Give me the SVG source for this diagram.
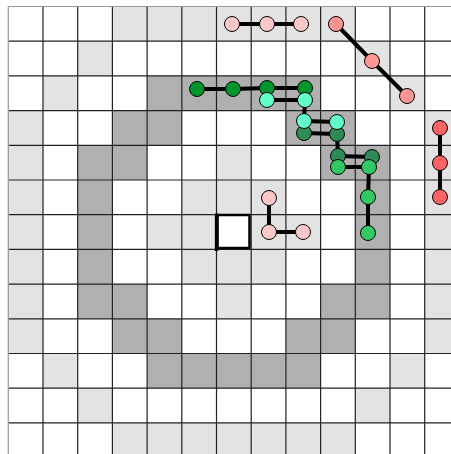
<svg xmlns="http://www.w3.org/2000/svg" width="451" height="454" viewBox="0 0 451 454">
<style>
.L{fill:#e3e3e3}
.D{fill:#b0b0b0}
.g{stroke:#222;stroke-width:1.2}
.edge{fill:none;stroke:#000;stroke-width:4;stroke-linejoin:round;stroke-linecap:round}
circle{stroke:#000;stroke-width:1}
.pink{fill:#ffc8c8}
.salmon{fill:#ff9696}
.red{fill:#ff6464}
.dg{fill:#00962d}
.mint{fill:#64ffc8}
.sg{fill:#2e8b57}
.lg{fill:#32c864}
</style>
<rect x="0" y="0" width="451" height="454" fill="#fff"/>
<g id="cells">
<!-- row 0 -->
<rect class="L" x="112.4" y="6.5" width="242.9" height="34.7"/>
<!-- row 1 -->
<rect class="L" x="77.7" y="41.2" width="34.7" height="34.7"/>
<rect class="L" x="355.3" y="41.2" width="34.7" height="34.7"/>
<!-- row 2 -->
<rect class="L" x="43" y="75.9" width="34.7" height="34.7"/>
<rect class="L" x="390" y="75.9" width="34.7" height="34.7"/>
<rect class="D" x="147.1" y="75.9" width="173.5" height="34.7"/>
<!-- row 3 -->
<rect class="L" x="8.3" y="110.6" width="34.7" height="34.7"/>
<rect class="L" x="424.7" y="110.6" width="34.7" height="34.7"/>
<rect class="D" x="112.4" y="110.6" width="69.4" height="34.7"/>
<rect class="D" x="285.9" y="110.6" width="69.4" height="34.7"/>
<!-- row 4 -->
<rect class="L" x="8.3" y="145.3" width="34.7" height="34.7"/>
<rect class="L" x="216.5" y="145.3" width="34.7" height="34.7"/>
<rect class="L" x="424.7" y="145.3" width="34.7" height="34.7"/>
<rect class="D" x="77.7" y="145.3" width="69.4" height="34.7"/>
<rect class="D" x="320.6" y="145.3" width="69.4" height="34.7"/>
<!-- row 5 -->
<rect class="L" x="8.3" y="180" width="34.7" height="34.7"/>
<rect class="L" x="181.8" y="180" width="104.1" height="34.7"/>
<rect class="L" x="424.7" y="180" width="34.7" height="34.7"/>
<rect class="D" x="77.7" y="180" width="34.7" height="34.7"/>
<rect class="D" x="355.3" y="180" width="34.7" height="34.7"/>
<!-- row 6 -->
<rect class="L" x="8.3" y="214.7" width="34.7" height="34.7"/>
<rect class="L" x="147.1" y="214.7" width="69.4" height="34.7"/>
<rect class="L" x="251.2" y="214.7" width="69.4" height="34.7"/>
<rect class="L" x="424.7" y="214.7" width="34.7" height="34.7"/>
<rect class="D" x="77.7" y="214.7" width="34.7" height="34.7"/>
<rect class="D" x="355.3" y="214.7" width="34.7" height="34.7"/>
<!-- row 7 -->
<rect class="L" x="8.3" y="249.4" width="34.7" height="34.7"/>
<rect class="L" x="181.8" y="249.4" width="104.1" height="34.7"/>
<rect class="L" x="424.7" y="249.4" width="34.7" height="34.7"/>
<rect class="D" x="77.7" y="249.4" width="34.7" height="34.7"/>
<rect class="D" x="355.3" y="249.4" width="34.7" height="34.7"/>
<!-- row 8 -->
<rect class="L" x="8.3" y="284.1" width="34.7" height="34.7"/>
<rect class="L" x="216.5" y="284.1" width="34.7" height="34.7"/>
<rect class="L" x="424.7" y="284.1" width="34.7" height="34.7"/>
<rect class="D" x="77.7" y="284.1" width="69.4" height="34.7"/>
<rect class="D" x="320.6" y="284.1" width="69.4" height="34.7"/>
<!-- row 9 -->
<rect class="L" x="8.3" y="318.8" width="34.7" height="34.7"/>
<rect class="L" x="424.7" y="318.8" width="34.7" height="34.7"/>
<rect class="D" x="112.4" y="318.8" width="69.4" height="34.7"/>
<rect class="D" x="285.9" y="318.8" width="69.4" height="34.7"/>
<!-- row 10 -->
<rect class="L" x="43" y="353.5" width="34.7" height="34.7"/>
<rect class="L" x="390" y="353.5" width="34.7" height="34.7"/>
<rect class="D" x="147.1" y="353.5" width="173.5" height="34.7"/>
<!-- row 11 -->
<rect class="L" x="77.7" y="388.2" width="34.7" height="34.7"/>
<rect class="L" x="355.3" y="388.2" width="34.7" height="34.7"/>
<!-- row 12 -->
<rect class="L" x="112.4" y="422.9" width="242.9" height="34.7"/>
</g>
<g id="gridlines" class="g">
<path d="M43 6.5V454M77.7 6.5V454M112.4 6.5V454M147.1 6.5V454M181.8 6.5V454M216.5 6.5V454M251.2 6.5V454M285.9 6.5V454M320.6 6.5V454M355.3 6.5V454M390 6.5V454M424.7 6.5V454"/>
<path d="M8.3 41.2H451M8.3 75.9H451M8.3 110.6H451M8.3 145.3H451M8.3 180H451M8.3 214.7H451M8.3 249.4H451M8.3 284.1H451M8.3 318.8H451M8.3 353.5H451M8.3 388.2H451M8.3 422.9H451"/>
<path d="M8.3 6.5V454M8.3 6.5H451" stroke="#999"/>
</g>
<g id="start-square" fill="none" stroke="#000">
<rect x="217.5" y="215" width="32" height="33" stroke-width="2.5"/>
<path d="M216.6 213.5V251" stroke-width="3.5"/>
</g>
<g id="connectors">
<polyline class="edge" points="232,24 267,24 301,24"/>
<polyline class="edge" points="336,24 372,61 407,96"/>
<polyline class="edge" points="440,128 440,163 440,197"/>
<polyline class="edge" points="197,89 233,89 267,88 305,88"/>
<polyline class="edge" points="267,100 305,100 304,121 337,122"/>
<polyline class="edge" points="304,133 337,134 338,156 372,157"/>
<polyline class="edge" points="338,167 369,167 368,197 368,233"/>
<polyline class="edge" points="269,198 269,232 303,232"/>
</g>
<g id="path-pink-top" class="pink">
<circle cx="232" cy="24" r="7.5"/><circle cx="267" cy="24" r="7.5"/><circle cx="301" cy="24" r="7.5"/>
</g>
<g id="path-salmon" class="salmon">
<circle cx="336" cy="24" r="7.5"/><circle cx="372" cy="61" r="7.5"/><circle cx="407" cy="96" r="7.5"/>
</g>
<g id="path-red" class="red">
<circle cx="440" cy="128" r="7.5"/><circle cx="440" cy="163" r="7.5"/><circle cx="440" cy="197" r="7.5"/>
</g>
<g id="path-darkgreen" class="dg">
<circle cx="197" cy="89" r="7.5"/><circle cx="233" cy="89" r="7.5"/><circle cx="267" cy="88" r="7.5"/><circle cx="305" cy="88" r="7.5"/>
</g>
<g id="path-seagreen" class="sg">
<circle cx="304" cy="133" r="7.5"/><circle cx="337" cy="134" r="7.5"/><circle cx="338" cy="156" r="7.5"/><circle cx="372" cy="157" r="7.5"/>
</g>
<g id="path-mint" class="mint">
<circle cx="267" cy="100" r="7.5"/><circle cx="305" cy="100" r="7.5"/><circle cx="304" cy="121" r="7.5"/><circle cx="337" cy="122" r="7.5"/>
</g>
<g id="path-green" class="lg">
<circle cx="338" cy="167" r="7.5"/><circle cx="369" cy="167" r="7.5"/><circle cx="368" cy="197" r="7.5"/><circle cx="368" cy="233" r="7.5"/>
</g>
<g id="path-pink-L" class="pink">
<circle cx="269" cy="198" r="7.5"/><circle cx="269" cy="232" r="7.5"/><circle cx="303" cy="232" r="7.5"/>
</g>
</svg>
